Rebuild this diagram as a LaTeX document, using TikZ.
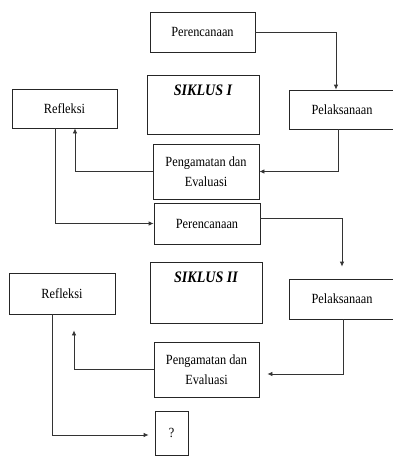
\documentclass[tikz,border=0pt]{standalone}
\usepackage{fontspec}
\setmainfont{Liberation Serif}[FakeStretch=0.88]
\usetikzlibrary{arrows.meta}
\usetikzlibrary{positioning}

\begin{document}
\begin{tikzpicture}[x=1pt,y=-1pt,
		box/.style={draw=black!85,line width=0.8pt,inner sep=0pt,align=center,
			font={\fontsize{14}{20}\selectfont}},
		arr/.style={draw=black!80,line width=0.8pt,-{Latex[length=5pt,width=4.5pt]}},
		siklus/.style={font={\fontsize{16}{18}\selectfont\bfseries\itshape}}]
		\useasboundingbox (0,0) rectangle (392,458);
		% siklus I
		\node[box,minimum width=105pt,minimum height=40pt] (p1) at (202.5,32) {Perencanaan};
		\node[box,minimum width=112pt,minimum height=59pt,
			label={[siklus,anchor=north,yshift=-7pt]north:SIKLUS I}] (s1) at (203,104.5) {};
		\node[box,minimum width=105pt,minimum height=39pt] (r1) at (64.5,108.5) {Refleksi};
		\node[box,minimum width=106pt,minimum height=39pt] (pl1) at (342,109.5) {Pelaksanaan};
		\node[box,minimum width=106pt,minimum height=55pt] (pg1) at (206,171.5) {Pengamatan dan\\Evaluasi};
		% siklus II
		\node[box,minimum width=106pt,minimum height=41pt] (p2) at (207,223.5) {Perencanaan};
		\node[box,minimum width=112pt,minimum height=61pt,
			label={[siklus,anchor=north,yshift=-7pt]north:SIKLUS II}] (s2) at (206,292.5) {};
		\node[box,minimum width=106pt,minimum height=41pt] (r2) at (62,293.5) {Refleksi};
		\node[box,minimum width=106pt,minimum height=40pt] (pl2) at (342,299) {Pelaksanaan};
		\node[box,minimum width=105pt,minimum height=55pt] (pg2) at (206.5,369.5) {Pengamatan dan\\Evaluasi};
		\node[box,minimum width=33pt,minimum height=44pt] (q) at (171.5,433) {?};
		% arrows
		\draw[arr] (p1.east) -| ([xshift=-6pt]pl1.north);
		\draw[arr] ([xshift=-4pt]pl1.south) |- (pg1.east);
		\draw[arr] (pg1.west) -| ([xshift=10.5pt]r1.south);
		\draw[arr] ([xshift=-9.5pt]r1.south) |- (p2.west);
		\draw[arr,shorten >=12pt] ([yshift=5pt]p2.east) -| (pl2.north);
		\draw[arr,shorten >=8pt] ([xshift=1pt]pl2.south) |- ([yshift=-4.5pt]pg2.east);
		\draw[arr,shorten >=16pt] (pg2.west) -| ([xshift=12pt]r2.south);
		\draw[arr,shorten >=6pt] ([xshift=-10pt]r2.south) |- ([yshift=-2pt]q.west);
	\end{tikzpicture}
\end{document}
